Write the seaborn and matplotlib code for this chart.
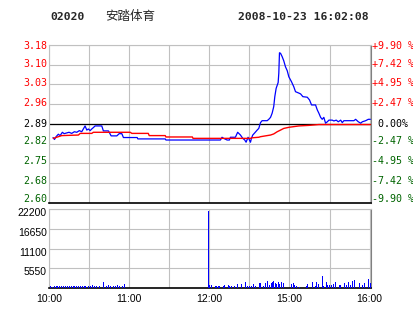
import matplotlib
matplotlib.use("Agg")
import matplotlib.pyplot as plt
import seaborn as sns

# ---------------- data ----------------
stock_code = "02020"
stock_name = "安踏体育"
timestamp = "2008-10-23 16:02:08"
prev_close = 2.89

# minutes from session open (10:00 .. 16:00, lunch break removed)
price_minutes = [3.0, 4.1, 5.3, 7.0, 8.3, 10.0, 11.3, 15.0, 17.0, 19.0, 20.8, 22.7, 24.5,
                 26.3, 27.0, 28.3, 29.5, 30.8, 32.0, 33.2, 34.5, 39.5, 40.7, 44.5, 46.5,
                 50.8, 52.5, 54.5, 55.7, 66.0, 66.5, 87.0, 87.5, 128.3, 129.5, 130.7,
                 133.3, 135.0, 135.8, 139.5, 141.2, 143.3, 145.0, 146.5, 147.5, 149.0,
                 150.8, 151.5, 152.5, 154.0, 155.8, 157.0, 158.3, 159.5, 163.3, 164.5,
                 165.8, 167.0, 168.2, 169.0, 170.0, 171.5, 172.0, 172.5, 173.3, 174.5,
                 175.7, 177.0, 178.3, 179.5, 181.5, 183.2, 184.5, 186.5, 188.3, 190.0,
                 193.3, 195.0, 196.5, 199.5, 200.8, 202.0, 203.3, 204.5, 205.7, 207.0,
                 208.3, 209.5, 212.0, 213.2, 215.0, 216.5, 218.3, 219.5, 220.7, 228.2,
                 229.5, 231.5, 233.3, 234.5, 237.0, 239.0, 240.5]
price_values = [2.841, 2.834, 2.844, 2.853, 2.848, 2.860, 2.855, 2.860, 2.856, 2.862, 2.860,
                2.866, 2.862, 2.877, 2.883, 2.868, 2.872, 2.866, 2.872, 2.877, 2.883, 2.883,
                2.865, 2.865, 2.847, 2.847, 2.855, 2.855, 2.841, 2.841, 2.836, 2.836, 2.832,
                2.832, 2.842, 2.838, 2.832, 2.832, 2.842, 2.842, 2.860, 2.850, 2.838, 2.832,
                2.824, 2.842, 2.824, 2.838, 2.850, 2.858, 2.868, 2.874, 2.895, 2.902, 2.902,
                2.907, 2.914, 2.929, 2.953, 2.989, 3.019, 3.040, 3.074, 3.148, 3.146, 3.134,
                3.119, 3.097, 3.083, 3.061, 3.043, 3.025, 3.007, 3.003, 2.999, 2.989, 2.987,
                2.977, 2.959, 2.959, 2.941, 2.929, 2.914, 2.907, 2.914, 2.893, 2.898, 2.904,
                2.904, 2.901, 2.904, 2.898, 2.904, 2.895, 2.902, 2.902, 2.907, 2.898, 2.893,
                2.898, 2.902, 2.907, 2.907]

avg_minutes = [3.2, 7.0, 9.5, 22.0, 23.3, 32.0, 33.2, 60.8, 62.0, 74.3, 75.0, 87.0, 87.5,
               107.3, 107.8, 150.8, 152.0, 157.0, 158.3, 162.0, 165.8, 168.2, 170.8, 173.3,
               175.7, 179.5, 187.0, 194.5, 202.0, 240.5]
avg_values = [2.838, 2.844, 2.848, 2.850, 2.856, 2.856, 2.860, 2.860, 2.856, 2.856, 2.848,
              2.848, 2.843, 2.843, 2.838, 2.838, 2.840, 2.842, 2.844, 2.847, 2.850, 2.854,
              2.862, 2.868, 2.874, 2.878, 2.883, 2.885, 2.888, 2.888]

vol_minutes = [1, 2, 3.5, 5, 6, 7.5, 9, 10.5, 12, 13.5, 15, 16.5, 18, 19, 20.5, 22, 23, 24.5,
               26, 27, 29, 30.5, 32, 34, 35.5, 37.5, 40.5, 42.5, 44, 46, 48, 49.5, 51, 52.5,
               54.5, 56, 119, 120, 121, 124, 125, 126.5, 127.5, 130, 131, 133.7, 135, 136.5,
               138.8, 141, 144, 147, 148, 150, 151, 153, 154.5, 157, 158, 160, 162, 163,
               164.5, 166, 167, 168, 169, 170, 171.5, 172.5, 174, 175, 180.8, 182.5, 183.5,
               185, 187, 192, 193, 196.5, 198.8, 200, 201, 204, 205, 207, 208, 209.5, 211,
               212.5, 214, 217, 218, 220.7, 222, 223.7, 225, 227, 228, 232, 234.5, 235.5,
               238.7, 240]
vol_values = [500, 400, 700, 500, 500, 700, 500, 500, 500, 600, 500, 700, 500, 700, 700, 500,
              700, 500, 500, 500, 700, 500, 800, 500, 500, 600, 1600, 700, 900, 600, 700, 500,
              800, 500, 600, 1100, 21600, 750, 750, 560, 560, 560, 560, 560, 850, 750, 560,
              470, 560, 1200, 1100, 1700, 560, 560, 560, 1100, 560, 1500, 1300, 560, 1500,
              1900, 750, 1400, 1700, 1900, 1300, 1100, 1700, 1100, 1700, 1300, 1200, 1400,
              750, 560, 280, 560, 1100, 1700, 560, 1700, 1100, 3300, 560, 1700, 940, 940, 940,
              1100, 1700, 750, 940, 1400, 940, 1700, 940, 1900, 2300, 1400, 750, 1400, 2600,
              1300]

left_labels = ["3.18", "3.10", "3.03", "2.96", "2.89", "2.82", "2.75", "2.68", "2.60"]
right_labels = ["+9.90 %", "+7.42 %", "+4.95 %", "+2.47 %", " 0.00%",
                "-2.47 %", "-4.95 %", "-7.42 %", "-9.90 %"]
pct_steps = [4, 3, 2, 1, 0, -1, -2, -3, -4]
vol_ticks = [5550, 11100, 16650, 22200]
vol_labels = ["5550", "11100", "16650", "22200"]
time_ticks = [0, 30, 60, 90, 120, 150, 180, 210, 240]
time_labels = ["10:00", "", "11:00", "", "12:00", "", "15:00", "", "16:00"]

# ---------------- style ----------------
sns.set_theme(style="white")
plt.rcParams['font.family'] = ['DejaVu Sans', 'Noto Sans CJK SC']

RED = "#FF0000"
GREEN = "#006400"
GRID = "#C0C0C0"
EDGE = "#808080"
PT = 0.72  # points per pixel at 100 dpi

W, H = 414, 314
fig = plt.figure(figsize=(W / 100, H / 100), dpi=100)
fig.patch.set_facecolor("white")


def box(l, t, r, b):
    return [l / W, 1 - b / H, (r - l) / W, (b - t) / H]


ax = fig.add_axes(box(49, 45, 371, 203))
axv = fig.add_axes(box(49, 209, 371, 288))

step = 0.02475
ytick_vals = [prev_close * (1 + k * step) for k in pct_steps]
ylo, yhi = prev_close * (1 - 4 * step), prev_close * (1 + 4 * step)
label_colors = [RED if k > 0 else ("black" if k == 0 else GREEN) for k in pct_steps]
label_lift_px = [0, 1.5, 2, 2.5, 1, 3.5, 3.5, 3.5, 4.5]

# ---------------- price panel ----------------
ax.set_xlim(0, 241)
ax.set_ylim(ylo, yhi)
ax.set_xticks(time_ticks)
ax.set_yticks(ytick_vals)
ax.set_yticklabels([""] * len(ytick_vals))
ax.grid(True, color=GRID, lw=0.8, zorder=0)
ax.set_axisbelow(True)
ax.axhline(prev_close, color="black", lw=0.9, zorder=2)
sns.lineplot(x=price_minutes, y=price_values, ax=ax, color="#0000FF", lw=0.9,
             estimator=None, sort=False, zorder=3)
sns.lineplot(x=avg_minutes, y=avg_values, ax=ax, color=RED, lw=1.0,
             estimator=None, sort=False, zorder=4)
ax.set_xlabel("")
ax.set_ylabel("")
ax.tick_params(axis="both", length=0, labelbottom=False)
for s in ["top", "left"]:
    ax.spines[s].set_color(GRID)
    ax.spines[s].set_linewidth(0.8)
ax.spines["right"].set_color(EDGE)
ax.spines["right"].set_linewidth(0.8)
ax.spines["bottom"].set_color("black")
ax.spines["bottom"].set_linewidth(1.2)

for val, lt, rt, c, lift in zip(ytick_vals, left_labels, right_labels,
                                label_colors, label_lift_px):
    ax.annotate(lt, xy=(0, val), xycoords=("axes fraction", "data"),
                xytext=(-2 * PT, lift * PT), textcoords="offset points",
                ha="right", va="center_baseline", color=c,
                family="DejaVu Sans Mono", fontsize=7.2, annotation_clip=False)
    ax.annotate(rt, xy=(1, val), xycoords=("axes fraction", "data"),
                xytext=(1 * PT, lift * PT), textcoords="offset points",
                ha="left", va="center_baseline", color=c,
                family="DejaVu Sans Mono", fontsize=7.2, annotation_clip=False)

# ---------------- volume panel ----------------
axv.set_xlim(0, 241)
axv.set_ylim(0, 22200)
axv.set_xticks(time_ticks)
axv.set_xticklabels(time_labels, family="Liberation Sans", fontsize=7.5)
axv.set_yticks(vol_ticks)
axv.set_yticklabels([""] * len(vol_ticks))
axv.grid(True, color=GRID, lw=0.8, zorder=0)
axv.set_axisbelow(True)
axv.vlines(vol_minutes, 0, vol_values, color="#0000FF", lw=0.72, zorder=3,
           antialiased=False)
axv.tick_params(axis="both", length=0, pad=2, colors="black")
axv.tick_params(axis="x", pad=4)
for val, lab in zip(vol_ticks, vol_labels):
    axv.annotate(lab, xy=(0, val), xycoords=("axes fraction", "data"),
                 xytext=(-2 * PT, -3 * PT), textcoords="offset points",
                 ha="right", va="center_baseline", color="black",
                 family="Liberation Sans", fontsize=7.5, annotation_clip=False)
for s in ["top", "left"]:
    axv.spines[s].set_color(GRID)
    axv.spines[s].set_linewidth(0.8)
axv.spines["right"].set_color(EDGE)
axv.spines["right"].set_linewidth(0.8)
axv.spines["bottom"].set_color("black")
axv.spines["bottom"].set_linewidth(1.2)

# ---------------- header ----------------
fig.text(50 / W, 1 - 16.5 / H, stock_code, family="DejaVu Sans Mono", weight="bold",
         fontsize=8.2, ha="left", va="center")
fig.text(105 / W, 1 - 16.5 / H, stock_name, family=["Noto Sans CJK SC", "DejaVu Sans"],
         fontsize=9, ha="left", va="center")
fig.text(238 / W, 1 - 16.5 / H, timestamp, family="DejaVu Sans Mono", weight="bold",
         fontsize=8.2, ha="left", va="center")

fig.savefig("out.png", dpi=100, facecolor="white")
